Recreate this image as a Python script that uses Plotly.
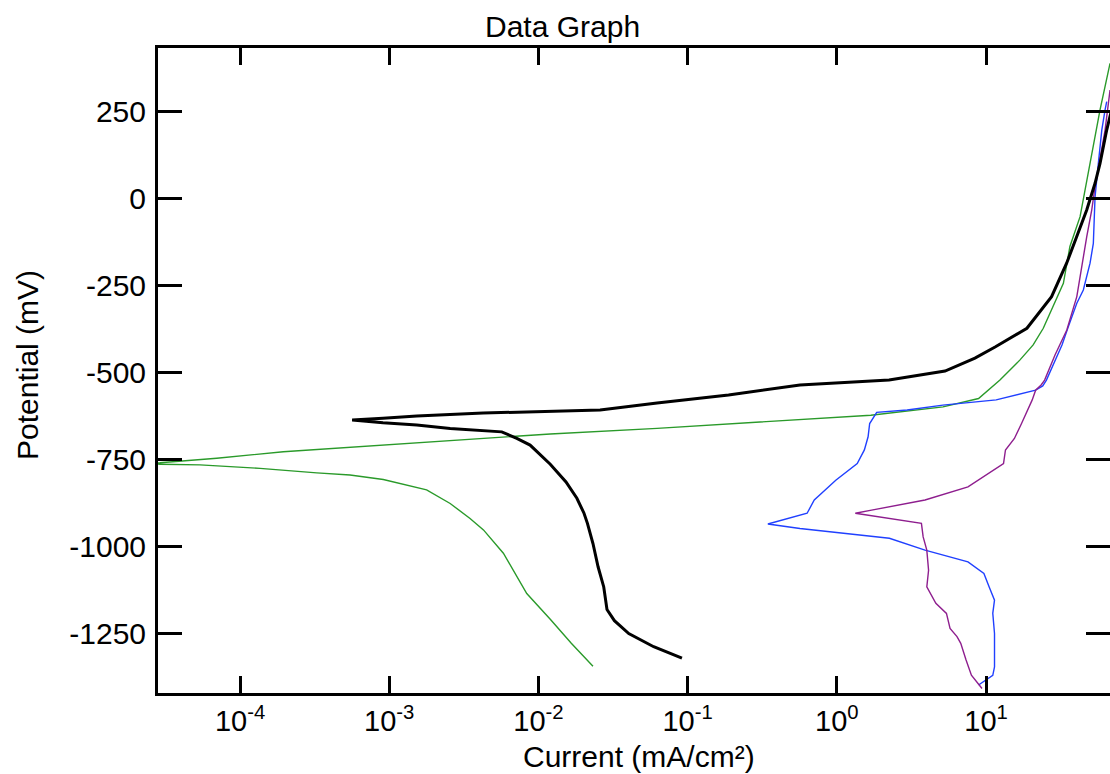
import plotly.graph_objects as go

# Current (mA/cm^2) and Potential (mV) for each polarization curve
black_current = [0.0916, 0.0592, 0.0403, 0.0323, 0.0288, 0.0274, 0.0251, 0.0232, 0.0213, 0.0202,
                 0.0181, 0.0153, 0.0120, 0.00879, 0.00716, 0.00568, 0.00256, 0.00153, 0.000908, 0.000564,
                 0.000908, 0.00153, 0.00426, 0.0120, 0.0259, 0.0624, 0.188, 0.566, 2.24, 5.31,
                 8.43, 11.5, 14.9, 18.8, 27.5, 34.7, 40.5, 47.3, 53.8, 58.1, 64.4, 70.0]
black_potential = [-1322, -1289, -1251, -1214, -1182, -1117, -1059, -992, -934, -905,
                   -862, -815, -764, -709, -690, -671, -661, -651, -645, -637,
                   -632, -625, -617, -611, -608, -588, -565, -536, -522, -496,
                   -459, -427, -398, -373, -282, -186, -110, -33, 44, 101, 197, 261]

green_current = [0.0232, 0.0166, 0.0120, 0.00835, 0.00582, 0.00428, 0.00348, 0.00256, 0.00178, 0.000912,
                 0.000546, 0.000327, 0.000136, 5.39e-5, 2.91e-5, 2.0e-5, 2.91e-5, 6.98e-5, 0.000195, 0.000912,
                 0.00428, 0.0120, 0.0624, 0.325, 1.69, 5.15, 8.91, 12.4, 16.9, 20.7,
                 24.2, 33.0, 36.5, 42.7, 49.8, 58.1, 67.8]
green_potential = [-1345, -1279, -1210, -1136, -1020, -953, -920, -877, -838, -808,
                   -795, -789, -776, -766, -764, -762, -760, -747, -728, -709,
                   -690, -677, -661, -642, -623, -599, -575, -522, -464, -421,
                   -373, -244, -138, -52, 101, 255, 389]

blue_current = [8.91, 11.1, 11.4, 11.4, 11.1, 11.4, 10.5, 9.68, 7.57, 5.14,
                3.90, 2.25, 1.30, 0.566, 0.345, 0.632, 0.706, 0.984, 1.37, 1.53,
                1.62, 1.66, 1.85, 2.96, 5.14, 11.7, 21.5, 24.0, 25.4, 29.0,
                32.3, 35.6, 40.6, 44.9, 49.8, 52.4, 53.8, 56.6, 59.7, 62.8, 64.4]
blue_potential = [-1399, -1371, -1347, -1251, -1193, -1155, -1117, -1078, -1045, -1025,
                  -1011, -977, -965, -949, -936, -905, -867, -810, -762, -723,
                  -685, -647, -615, -608, -594, -579, -551, -539, -522, -464,
                  -421, -369, -301, -263, -186, -129, 5, 101, 197, 255, 279]

purple_current = [9.40, 7.98, 7.35, 6.77, 6.39, 5.74, 5.43, 4.61, 4.01, 4.12,
                  4.01, 3.79, 3.69, 1.91, 1.33, 1.71, 3.90, 7.57, 13.1, 13.5,
                  15.5, 17.3, 20.4, 21.5, 23.4, 24.7, 29.0, 34.8, 40.6, 47.3,
                  51.1, 53.8, 58.1, 62.8, 67.8]
purple_potential = [-1409, -1371, -1327, -1279, -1260, -1236, -1193, -1164, -1117, -1069,
                    -1011, -973, -934, -915, -905, -896, -867, -829, -762, -723,
                    -690, -647, -579, -551, -536, -522, -450, -378, -282, -110,
                    -33, 34, 121, 197, 312]

x_tickvals = [1e-4, 1e-3, 1e-2, 1e-1, 1e0, 1e1]
x_ticktext = ["10<sup>-4</sup>", "10<sup>-3</sup>", "10<sup>-2</sup>",
              "10<sup>-1</sup>", "10<sup>0</sup>", "10<sup>1</sup>"]
y_tickvals = [-1250, -1000, -750, -500, -250, 0, 250]
y_ticktext = ["-1250", "-1000", "-750", "-500", "-250", "0", "250"]

FONT = "Liberation Sans, Arial, sans-serif"

fig = go.Figure()
fig.add_trace(go.Scatter(x=green_current, y=green_potential, mode="lines",
                         line=dict(color="#2a9a2a", width=1.4), name="green"))
fig.add_trace(go.Scatter(x=blue_current, y=blue_potential, mode="lines",
                         line=dict(color="#2040ff", width=1.4), name="blue"))
fig.add_trace(go.Scatter(x=purple_current, y=purple_potential, mode="lines",
                         line=dict(color="#8e1e8e", width=1.4), name="purple"))
fig.add_trace(go.Scatter(x=black_current, y=black_potential, mode="lines",
                         line=dict(color="#000000", width=3), name="black"))

fig.update_layout(
    width=1110, height=774,
    margin=dict(l=158, r=0, t=48, b=81, autoexpand=False),
    paper_bgcolor="white", plot_bgcolor="white",
    showlegend=False,
    font=dict(family=FONT, size=28, color="black"),
    annotations=[
        dict(text="Data Graph", x=0.4254, y=1.0326, xref="paper", yref="paper",
             xanchor="center", yanchor="middle", showarrow=False,
             font=dict(family=FONT, size=30, color="black")),
        dict(text="Current (mA/cm²)", x=0.505, y=-0.0985, xref="paper", yref="paper",
             xanchor="center", yanchor="middle", showarrow=False,
             font=dict(family=FONT, size=30, color="black")),
        dict(text="Potential (mV)", x=-0.1376, y=0.5085, xref="paper", yref="paper",
             xanchor="center", yanchor="middle", showarrow=False, textangle=-90,
             font=dict(family=FONT, size=30, color="black")),
    ],
)
fig.update_xaxes(
    type="log", range=[-4.55, 1.831], automargin=False,
    tickvals=x_tickvals, ticktext=x_ticktext,
    ticks="inside", ticklen=17, tickwidth=2.5, tickcolor="black",
    showline=True, linewidth=3, linecolor="black", mirror="ticks",
    showgrid=False, zeroline=False,
    tickfont=dict(family=FONT, size=29),
)
fig.update_yaxes(
    range=[-1422, 433], automargin=False,
    tickvals=y_tickvals, ticktext=y_ticktext,
    ticks="inside", ticklen=24, tickwidth=2.5, tickcolor="black",
    showline=True, linewidth=3, linecolor="black", mirror="ticks",
    showgrid=False, zeroline=False, ticklabelstandoff=3,
    tickfont=dict(family=FONT, size=30),
)

fig.write_html(
    "out.html",
    config={"displayModeBar": False},
    post_script="document.body.style.margin='0px';document.body.style.overflow='hidden';",
)
